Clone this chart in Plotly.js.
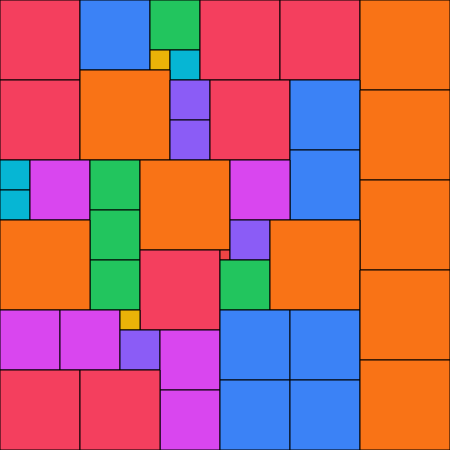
<!DOCTYPE html>
<html>
<head>
<meta charset="utf-8">
<script src="https://cdn.plot.ly/plotly-3.0.1.min.js"></script>
<style>html,body{margin:0;padding:0;background:#fff;}#chart{width:450px;height:450px;}</style>
</head>
<body>
<div id="chart"></div>
<script>
// Square packing: left/top corner and side of each square (grid units)
const x0 = [0,8,15,15,17,20,28,36, 0,8,17,17,21,29,29,36,36, 0,0,3,9,9,9,14,23, 0,14,22,23,22,27, 0,6,12,12,16,16, 0,8,22,29,22,29,36,36];
const y0 = [0,0,0,5,5,0,0,0, 8,7,8,12,8,8,15,9,18, 16,19,16,16,21,26,16,16, 22,25,25,22,26,22, 31,31,31,33,33,39, 37,37,31,31,38,38,27,36];
const side = [8,7,5,2,3,8,8,9, 8,9,4,4,8,7,7,9,9, 3,3,6,5,5,5,9,6, 9,8,1,4,5,9, 6,6,2,4,6,6, 8,8,7,7,7,7,9,9];

const colorBySide = {1:'#EF4444',2:'#EAB308',3:'#06B6D4',4:'#8B5CF6',5:'#22C55E',6:'#D946EF',7:'#3B82F6',8:'#F43F5E',9:'#F97316'};

const traces = side.map((s,i)=>{
  const a=x0[i], b=y0[i];
  return {
    type:'scatter', mode:'lines', fill:'toself',
    x:[a,a+s,a+s,a,a], y:[b,b,b+s,b+s,b],
    fillcolor:colorBySide[s], line:{color:'#000',width:1},
    hoverinfo:'skip', showlegend:false, cliponaxis:false
  };
});

Plotly.newPlot('chart', traces, {
  width:450, height:450,
  margin:{l:0,r:0,t:0,b:0,pad:0},
  paper_bgcolor:'#fff', plot_bgcolor:'#fff',
  xaxis:{range:[0,45],visible:false,fixedrange:true},
  yaxis:{range:[45,0],visible:false,fixedrange:true},
  hovermode:false
}, {displayModeBar:false, staticPlot:true});
</script>
</body>
</html>
